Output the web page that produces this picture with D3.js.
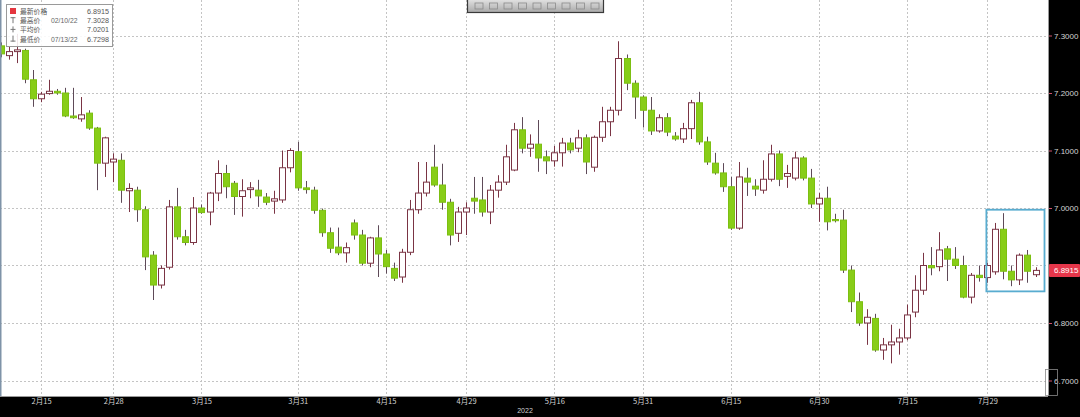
<!DOCTYPE html>
<html><head><meta charset="utf-8">
<script src="https://cdn.jsdelivr.net/npm/d3@7"></script>
<style>html,body{margin:0;padding:0;background:#fff;overflow:hidden}svg{display:block}</style>
</head><body><svg id="c" width="1080" height="417"></svg>
<script>
// ---- data (EUR/CNY daily, 2022) ----
const dates = [
"02-08","02-09","02-10","02-11","02-14","02-15","02-16","02-17","02-18","02-21","02-22","02-23","02-24","02-25","02-28",
"03-01","03-02","03-03","03-04","03-07","03-08","03-09","03-10","03-11","03-14","03-15","03-16","03-17","03-18","03-21","03-22","03-23","03-24","03-25","03-28","03-29","03-30","03-31",
"04-01","04-04","04-05","04-06","04-07","04-08","04-11","04-12","04-13","04-14","04-15","04-18","04-19","04-20","04-21","04-22","04-25","04-26","04-27","04-28","04-29",
"05-02","05-03","05-04","05-05","05-06","05-09","05-10","05-11","05-12","05-13","05-16","05-17","05-18","05-19","05-20","05-23","05-24","05-25","05-26","05-27","05-30","05-31",
"06-01","06-02","06-03","06-06","06-07","06-08","06-09","06-10","06-13","06-14","06-15","06-16","06-17","06-20","06-21","06-22","06-23","06-24","06-27","06-28","06-29","06-30",
"07-01","07-04","07-05","07-06","07-07","07-08","07-11","07-12","07-13","07-14","07-15","07-18","07-19","07-20","07-21","07-22","07-25","07-26","07-27","07-28","07-29",
"08-01","08-02","08-03","08-04","08-05","08-08"];
const open = [
7.282,7.265,7.272,7.274,7.223,7.190,7.199,7.203,7.200,7.160,7.155,7.165,7.139,7.078,7.080,
7.083,7.030,7.031,6.997,6.918,6.866,6.897,7.002,6.950,6.940,7.000,6.993,7.026,7.060,7.043,7.020,7.032,7.031,7.019,7.012,7.014,7.070,7.098,
7.035,7.031,6.996,6.957,6.932,6.922,6.974,6.953,6.904,6.948,6.920,6.895,6.880,6.923,6.997,7.026,7.071,7.040,7.010,6.956,6.993,
7.017,7.014,6.993,7.031,7.045,7.066,7.136,7.104,7.111,7.089,7.082,7.096,7.113,7.104,7.122,7.071,7.123,7.150,7.170,7.260,7.217,7.193,
7.170,7.134,7.157,7.125,7.120,7.138,7.183,7.115,7.078,7.061,7.037,6.965,7.052,7.038,7.031,7.050,7.094,7.055,7.052,7.087,7.052,7.007,
7.017,6.980,6.979,6.892,6.837,6.800,6.808,6.753,6.762,6.767,6.774,6.819,6.857,6.900,6.898,6.929,6.911,6.900,6.845,6.883,6.879,
6.889,6.963,6.890,6.875,6.918,6.884];
const high = [
7.288,7.281,7.3028,7.277,7.240,7.202,7.223,7.207,7.209,7.209,7.193,7.170,7.141,7.124,7.095,
7.095,7.043,7.037,7.003,6.925,6.900,7.014,7.035,6.962,7.019,7.006,7.028,7.083,7.075,7.047,7.050,7.045,7.049,7.026,7.030,7.100,7.104,7.115,
7.047,7.037,6.999,6.966,6.966,6.940,6.980,6.962,6.950,6.970,6.927,6.905,6.929,7.014,7.080,7.080,7.110,7.077,7.016,7.002,7.010,
7.054,7.054,7.040,7.057,7.110,7.148,7.158,7.128,7.153,7.100,7.108,7.122,7.122,7.136,7.128,7.126,7.176,7.176,7.290,7.267,7.222,7.196,
7.193,7.163,7.165,7.132,7.148,7.188,7.202,7.124,7.096,7.078,7.054,7.080,7.070,7.050,7.083,7.110,7.100,7.075,7.098,7.090,7.068,7.026,
7.037,6.990,6.997,6.900,6.853,6.824,6.816,6.774,6.797,6.790,6.832,6.883,6.922,6.932,6.958,6.934,6.932,6.917,6.887,6.900,6.905,
6.974,6.991,6.900,6.921,6.927,6.897];
const low = [
7.262,7.258,7.252,7.217,7.176,7.184,7.197,7.197,7.158,7.155,7.150,7.136,7.031,7.054,7.045,
7.009,6.993,6.976,6.892,6.840,6.860,6.893,6.945,6.935,6.936,6.990,6.970,7.012,7.017,6.988,6.985,7.017,7.002,7.005,6.990,7.009,7.062,7.030,
7.025,6.990,6.950,6.922,6.918,6.905,6.945,6.900,6.897,6.880,6.886,6.873,6.870,6.918,6.990,7.020,7.037,6.997,6.935,6.941,6.953,
6.990,6.985,6.972,7.018,7.040,7.064,7.095,7.089,7.063,7.059,7.072,7.072,7.095,7.097,7.059,7.063,7.115,7.125,7.161,7.205,7.155,7.140,
7.127,7.131,7.125,7.117,7.113,7.120,7.110,7.075,7.058,7.028,6.962,6.962,7.021,7.021,7.025,7.046,7.038,7.035,7.048,7.048,7.000,6.976,
6.961,6.975,6.887,6.819,6.795,6.762,6.750,6.736,6.7298,6.745,6.770,6.810,6.849,6.883,6.890,6.873,6.894,6.843,6.834,6.872,6.870,
6.884,6.876,6.864,6.866,6.870,6.880];
const close = [
7.268,7.272,7.275,7.224,7.190,7.198,7.203,7.200,7.160,7.157,7.162,7.139,7.078,7.122,7.085,
7.031,7.034,6.997,6.915,6.866,6.895,7.002,6.950,6.940,7.000,6.992,7.026,7.060,7.037,7.020,7.030,7.035,7.021,7.010,7.016,7.070,7.100,7.035,
7.032,6.996,6.957,6.930,6.922,6.931,6.953,6.904,6.948,6.920,6.898,6.878,6.923,6.997,7.026,7.045,7.040,7.010,6.953,6.993,7.000,
7.012,6.993,7.031,7.045,7.089,7.136,7.104,7.111,7.087,7.082,7.096,7.113,7.101,7.122,7.080,7.123,7.150,7.170,7.260,7.217,7.193,7.170,
7.134,7.157,7.132,7.120,7.138,7.183,7.115,7.080,7.061,7.037,6.965,7.054,7.045,7.033,7.050,7.094,7.050,7.060,7.087,7.052,7.007,7.017,
6.976,6.978,6.892,6.837,6.800,6.810,6.753,6.762,6.767,6.774,6.814,6.857,6.900,6.896,6.927,6.911,6.900,6.845,6.883,6.879,6.900,
6.963,6.890,6.875,6.918,6.890,6.8915];
const tickDates  = ["02-15","02-28","03-15","03-31","04-15","04-29","05-16","05-31","06-15","06-30","07-15","07-29"];
const tickLabels = ["2月15","2月28","3月15","3月31","4月15","4月29","5月16","5月31","6月15","6月30","7月15","7月29"];
const yTicks = [6.7, 6.8, 6.9, 7.0, 7.1, 7.2, 7.3];
const yearLabel = "2022";
const legendNames  = ["最新价格", "最高价", "平均价", "最低价"];
const legendDates  = ["", "02/10/22", "", "07/13/22"];
const legendValues = ["6.8915", "7.3028", "7.0201", "6.7298"];
const lastPrice = 6.8915;
const boxFrom = "07-29", boxTo = "08-08", boxHigh = 6.997, boxLow = 6.855;

// ---- drawing ----
const W = 1080, H = 417, plotR = 1048, plotB = 396;
const svg = d3.select("#c");
const x = d3.scaleLinear().domain([0, dates.length - 1]).range([1, 1035.5]);
const y = d3.scaleLinear().domain([6.7, 7.3]).range([380.5, 35.5]);
const idx = d => dates.indexOf(d);
const crisp = v => Math.round(v) + 0.5;

svg.append("rect").attr("width", W).attr("height", H).attr("fill", "#fff");
svg.append("defs").append("clipPath").attr("id", "pc")
  .append("rect").attr("x", 0).attr("y", 0).attr("width", plotR).attr("height", plotB);

const plot = svg.append("g").attr("clip-path", "url(#pc)");
// grid
plot.append("g").selectAll("line").data(yTicks).join("line")
  .attr("x1", 0).attr("x2", plotR).attr("y1", d => crisp(y(d))).attr("y2", d => crisp(y(d)))
  .attr("stroke", "#c4c4c4").attr("stroke-dasharray", "2,2");
plot.append("g").selectAll("line").data(tickDates).join("line")
  .attr("x1", d => crisp(x(idx(d)))).attr("x2", d => crisp(x(idx(d))))
  .attr("y1", 0).attr("y2", plotB)
  .attr("stroke", "#c4c4c4").attr("stroke-dasharray", "2,2");

// candles
const data = dates.map((d, i) => ({d, i, o: open[i], h: high[i], l: low[i], c: close[i]}));
const cg = plot.append("g").selectAll("g").data(data).join("g");
cg.append("line")
  .attr("x1", d => crisp(x(d.i))).attr("x2", d => crisp(x(d.i)))
  .attr("y1", d => y(d.h)).attr("y2", d => y(d.l))
  .attr("stroke", d => d.c >= d.o ? "#7a3444" : "#5e4a58").attr("stroke-width", 1);
const bw = 6;
cg.append("rect")
  .attr("x", d => Math.round(x(d.i)) - bw / 2 + 0.5)
  .attr("width", bw)
  .attr("y", d => y(Math.max(d.o, d.c)))
  .attr("height", d => Math.max(1.2, Math.abs(y(d.o) - y(d.c))))
  .attr("fill", d => d.c >= d.o ? "#ffffff" : "#88cd18")
  .attr("stroke", d => d.c >= d.o ? "#7a3444" : "#7cbf12")
  .attr("stroke-width", 1);

// highlight box
plot.append("rect")
  .attr("x", x(idx(boxFrom)) - 1).attr("y", y(boxHigh))
  .attr("width", x(idx(boxTo)) - x(idx(boxFrom)) + 10)
  .attr("height", y(boxLow) - y(boxHigh))
  .attr("fill", "none").attr("stroke", "#58acd0").attr("stroke-width", 1.8);

// left edge line
svg.append("line").attr("x1", 0.75).attr("x2", 0.75).attr("y1", 0).attr("y2", plotB)
  .attr("stroke", "#7f93a8").attr("stroke-width", 1.5);

// legend
const lg = svg.append("g").attr("transform", "translate(6,4)");
lg.append("rect").attr("x", 0.5).attr("y", 0.5).attr("width", 106).attr("height", 42)
  .attr("fill", "#fff").attr("fill-opacity", 0.88).attr("stroke", "#9a9a9a");
legendNames.forEach((n, i) => {
  const ry = 10 + i * 9.2;
  if (i === 0) {
    lg.append("rect").attr("x", 4).attr("y", ry - 6).attr("width", 6).attr("height", 6).attr("fill", "#e4363f");
  } else {
    const gx = 7;
    lg.append("line").attr("x1", gx).attr("x2", gx).attr("y1", ry - 6).attr("y2", ry).attr("stroke", "#777");
    const hy = i === 1 ? ry - 5.5 : (i === 2 ? ry - 3 : ry - 0.5);
    lg.append("line").attr("x1", gx - 2.5).attr("x2", gx + 2.5).attr("y1", hy).attr("y2", hy).attr("stroke", "#777");
  }
  lg.append("text").attr("x", 14).attr("y", ry).text(n)
    .attr("font-family", "'Noto Sans CJK SC', sans-serif").attr("font-size", 6.8).attr("fill", "#555");
  if (legendDates[i]) lg.append("text").attr("x", 45).attr("y", ry).text(legendDates[i])
    .attr("font-family", "'Liberation Sans', Arial, sans-serif").attr("font-size", 6.8).attr("fill", "#666");
  lg.append("text").attr("x", 103).attr("y", ry).attr("text-anchor", "end").text(legendValues[i])
    .attr("font-family", "'Liberation Sans', Arial, sans-serif").attr("font-size", 7.2).attr("fill", "#555");
});

// toolbar at top
const tb = svg.append("g").attr("transform", "translate(467,0)");
const grad = svg.select("defs").append("linearGradient").attr("id", "tbg").attr("x1", 0).attr("x2", 0).attr("y1", 0).attr("y2", 1);
grad.append("stop").attr("offset", 0).attr("stop-color", "#e4e4e4");
grad.append("stop").attr("offset", 1).attr("stop-color", "#a9a9a9");
tb.append("rect").attr("x", 0.5).attr("y", -1).attr("width", 136).attr("height", 13.5)
  .attr("fill", "url(#tbg)").attr("stroke", "#3a3a3a").attr("stroke-width", 1.2);
d3.range(9).forEach(k => {
  tb.append("rect").attr("x", 8 + k * 14.5).attr("y", 3).attr("width", 8).attr("height", 6)
    .attr("fill", "none").attr("stroke", "#8a8a8a").attr("stroke-width", 0.8);
});

// right axis strip
svg.append("rect").attr("x", plotR).attr("y", 0).attr("width", W - plotR).attr("height", H).attr("fill", "#000");
// bottom axis strip
svg.append("rect").attr("x", 0).attr("y", plotB).attr("width", W).attr("height", H - plotB).attr("fill", "#000");
svg.append("line").attr("x1", 0).attr("x2", plotR).attr("y1", plotB + 0.5).attr("y2", plotB + 0.5).attr("stroke", "#9a9a9a");
svg.append("line").attr("x1", plotR + 0.5).attr("x2", plotR + 0.5).attr("y1", 0).attr("y2", plotB).attr("stroke", "#9a9a9a");

const ya = svg.append("g").attr("transform", `translate(${plotR + 1},0)`)
  .call(d3.axisRight(y).tickValues(yTicks).tickFormat(d3.format(".4f")).tickSize(3).tickPadding(2));
ya.select(".domain").remove();
ya.selectAll(".tick line").attr("stroke", "#d0506a");
ya.selectAll(".tick text").attr("fill", "#d4d4d4").attr("font-size", 8)
  .attr("font-family", "'Liberation Sans', Arial, sans-serif");
// the tick label hidden under the last-price tag in the reference
ya.selectAll(".tick").filter(d => Math.abs(y(d) - y(lastPrice)) < 8).select("text").remove();

// last price tag
svg.append("rect").attr("x", plotR + 1).attr("y", y(lastPrice) - 6.5).attr("width", W - plotR - 1).attr("height", 13)
  .attr("fill", "#e5364a").attr("rx", 1);
svg.append("text").attr("x", plotR + 6).attr("y", y(lastPrice) + 3).text(d3.format(".4f")(lastPrice))
  .attr("fill", "#fff").attr("font-size", 8).attr("font-family", "'Liberation Sans', Arial, sans-serif");
// scroll bracket near bottom of right axis
svg.append("rect").attr("x", plotR - 2.5).attr("y", 369.5).attr("width", 12).attr("height", 26)
  .attr("fill", "none").attr("stroke", "#8a8a8a").attr("stroke-width", 0.8);

const xa = svg.append("g").attr("transform", `translate(0,${plotB})`)
  .call(d3.axisBottom(x).tickValues(tickDates.map(idx)).tickFormat((d, i) => tickLabels[i]).tickSize(0).tickPadding(3));
xa.select(".domain").remove();
xa.selectAll(".tick text").attr("fill", "#d4d4d4").attr("font-size", 7.5)
  .attr("font-family", "'Noto Sans CJK SC', sans-serif");
svg.append("text").attr("x", 525).attr("y", 413).attr("text-anchor", "middle").text(yearLabel)
  .attr("fill", "#cfcfcf").attr("font-size", 7).attr("font-family", "'Liberation Sans', Arial, sans-serif");
</script>
</body></html>
